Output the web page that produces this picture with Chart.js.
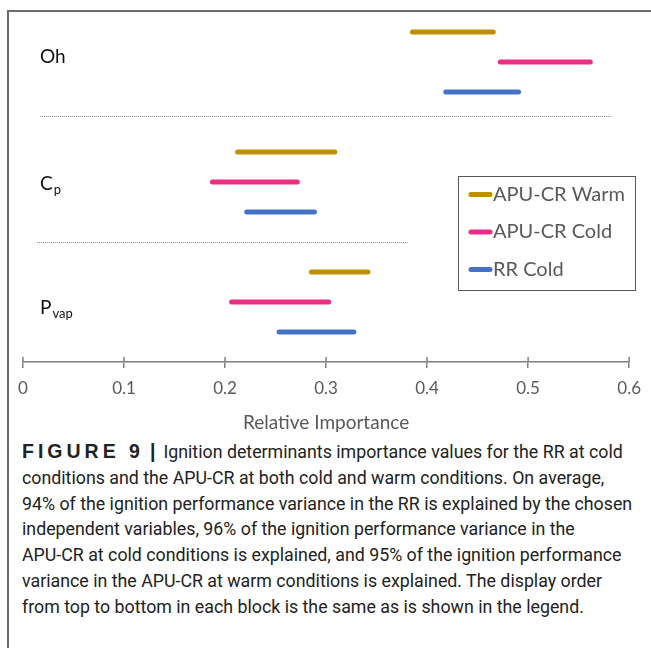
<!DOCTYPE html>
<html>
<head>
<meta charset="utf-8">
<script src="https://cdn.jsdelivr.net/npm/chart.js@4.4.1/dist/chart.umd.min.js"></script>
<style>
  html, body { margin: 0; padding: 0; background: #fff; }
  body { width: 651px; height: 648px; position: relative; overflow: hidden; }
  #chart { position: absolute; left: 0; top: 0; }
  #frameLow { position: absolute; left: 7px; top: 434px; width: 0; height: 300px;
              border-left: 2px solid #6b6b6b; }
  #caption { position: absolute; left: 22px; top: 439px; font-family: Roboto, sans-serif;
             font-size: 17.8px; line-height: 25.8px; color: #222; white-space: nowrap; }
  #caption b { font-family: "Liberation Sans", Arial, sans-serif; font-weight: bold; font-size: 19.5px; }
  #caption b.fig { letter-spacing: 4px; }
  #caption b.bar { margin: 0 8px 0 6px; }
</style>
</head>
<body>
<canvas id="chart" width="651" height="434"></canvas>
<div id="frameLow"></div>
<div id="caption">
  <div><b class="fig">FIGURE 9</b><b class="bar">|</b>Ignition determinants importance values for the RR at cold</div>
  <div>conditions and the APU-CR at both cold and warm conditions. On average,</div>
  <div>94% of the ignition performance variance in the RR is explained by the chosen</div>
  <div>independent variables, 96% of the ignition performance variance in the</div>
  <div>APU-CR at cold conditions is explained, and 95% of the ignition performance</div>
  <div>variance in the APU-CR at warm conditions is explained. The display order</div>
  <div>from top to bottom in each block is the same as is shown in the legend.</div>
</div>
<script>
// categories, top to bottom (main letter + subscript)
const categories = ["Oh", "C", "P"];
const categorySubs = ["", "p", "vap"];

// series names, in legend order
const seriesNames = ["APU-CR Warm", "APU-CR Cold", "RR Cold"];
const seriesColors = ["#BF8F00", "#EE2D84", "#4472C4"];

// [low, high] relative importance per category
const warmRanges = [[0.383, 0.468], [0.210, 0.311], [0.283, 0.344]];
const coldRanges = [[0.470, 0.564], [0.185, 0.274], [0.204, 0.305]];
const rrRanges   = [[0.416, 0.493], [0.219, 0.291], [0.251, 0.330]];

// x axis ticks
const xTicks = [0, 0.1, 0.2, 0.3, 0.4, 0.5, 0.6];
const xTickLabels = ["0", "0.1", "0.2", "0.3", "0.4", "0.5", "0.6"];

const allRanges = [warmRanges, coldRanges, rrRanges];

// frame, tick stubs above the axis, dotted separators, category labels and the legend box
const decorPlugin = {
    id: "decor",
    afterDraw(chart, args, opts) {
        const ctx = chart.ctx;
        const xs = chart.scales.x;
        const ys = chart.scales.y;
        const base = chart.chartArea.bottom;
        ctx.save();

        // figure frame (top + left edge)
        ctx.strokeStyle = "#6b6b6b";
        ctx.lineWidth = 2;
        ctx.beginPath();
        ctx.moveTo(chart.width, 11);
        ctx.lineTo(8, 11);
        ctx.lineTo(8, chart.height);
        ctx.stroke();

        ctx.strokeStyle = "#7f7f7f";
        ctx.lineWidth = 1.5;
        xs.ticks.forEach(t => {
            const px = xs.getPixelForValue(t.value);
            ctx.beginPath();
            ctx.moveTo(px, base - 5);
            ctx.lineTo(px, base);
            ctx.stroke();
        });

        ctx.strokeStyle = "#8a8a8a";
        ctx.lineWidth = 1;
        ctx.setLineDash([1, 1]);
        opts.separators.forEach(s => {
            const py = Math.round(ys.getPixelForValue(s.at)) + 0.5;
            ctx.beginPath();
            ctx.moveTo(xs.getPixelForValue(s.from), py);
            ctx.lineTo(xs.getPixelForValue(s.to), py);
            ctx.stroke();
        });
        ctx.setLineDash([]);

        // category labels with subscripts
        ctx.fillStyle = "#111";
        ctx.textBaseline = "middle";
        ctx.textAlign = "left";
        categories.forEach((c, i) => {
            const py = ys.getPixelForValue(i) + opts.labelShift[i];
            ctx.font = "19px Lato";
            ctx.fillText(c, opts.labelX, py);
            if (categorySubs[i]) {
                const w = ctx.measureText(c).width;
                ctx.font = "13px Lato";
                ctx.fillText(categorySubs[i], opts.labelX + w + 1, py + 6);
            }
        });

        // legend
        const L = opts.legend;
        ctx.strokeStyle = "#595959";
        ctx.lineWidth = 1;
        ctx.strokeRect(L.left + 0.5, L.top + 0.5, L.width, L.height);
        ctx.font = "20px Lato";
        ctx.fillStyle = "#595959";
        chart.data.datasets.forEach((ds, i) => {
            const py = L.top + L.firstRow + i * L.rowStep;
            ctx.strokeStyle = ds.backgroundColor;
            ctx.lineWidth = 5;
            ctx.lineCap = "round";
            ctx.beginPath();
            ctx.moveTo(L.left + 13, py);
            ctx.lineTo(L.left + 32, py);
            ctx.stroke();
            ctx.fillText(ds.label, L.left + 35, py);
        });
        ctx.restore();
    }
};

new Chart(document.getElementById("chart").getContext("2d"), {
    type: "bar",
    data: {
        labels: categories.map((c, i) => c + categorySubs[i]),
        datasets: seriesNames.map((name, i) => ({
            label: name,
            data: allRanges[i],
            backgroundColor: seriesColors[i],
            borderWidth: 0,
            borderRadius: 3,
            borderSkipped: false,
            maxBarThickness: 5,
            barPercentage: 1,
            categoryPercentage: 0.75,
        })),
    },
    options: {
        indexAxis: "y",
        responsive: false,
        animation: false,
        layout: { padding: { left: 23, right: 14, top: 2, bottom: 0 } },
        scales: {
            x: {
                type: "linear",
                min: 0,
                max: 0.6,
                afterBuildTicks: axis => { axis.ticks = xTicks.map(v => ({ value: v })); },
                afterFit: axis => { axis.height = 72; },
                grid: { drawOnChartArea: false, color: "#7f7f7f", lineWidth: 1.5, tickLength: 6 },
                border: { color: "#7f7f7f", width: 1.5 },
                ticks: {
                    color: "#595959",
                    font: { family: "Lato", size: 17 },
                    padding: 10,
                    maxRotation: 0,
                    callback: (v, i) => xTickLabels[i],
                },
                title: {
                    display: true,
                    text: "Relative Importance",
                    color: "#595959",
                    font: { family: "Lato", size: 19 },
                    padding: { top: 2, bottom: 0 },
                },
            },
            y: { display: false, offset: true },
        },
        plugins: {
            legend: { display: false },
            tooltip: { enabled: false },
            decor: {
                separators: [
                    { at: 0.45, from: 0.017, to: 0.583 },
                    { at: 1.5, from: 0.014, to: 0.381 },
                ],
                labelX: 40,
                labelShift: [-5, 2, 6],
                legend: { left: 458, top: 176, width: 177, height: 114, firstRow: 18.5, rowStep: 37.5 },
            },
        },
    },
    plugins: [decorPlugin],
});
</script>
</body>
</html>
